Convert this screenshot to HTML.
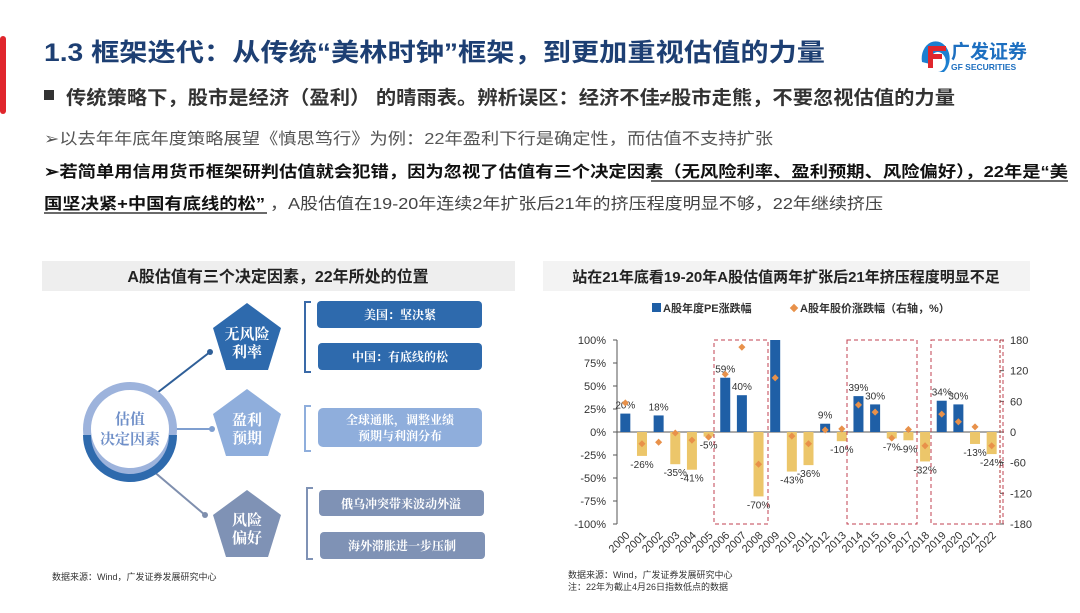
<!DOCTYPE html>
<html><head><meta charset="utf-8"><style>
body{margin:0;background:#fff;width:1080px;height:608px;overflow:hidden;font-family:"Liberation Sans","Noto Sans CJK SC",sans-serif}
</style></head><body>
<svg id="s" width="1080" height="608" xmlns="http://www.w3.org/2000/svg" font-family="Liberation Sans, Noto Sans CJK SC, sans-serif">
<rect x="0" y="36" width="6" height="78" rx="3" fill="#e0262c"/>
<text x="44" y="61" font-size="25" font-weight="bold" fill="#1d3f73" textLength="781" lengthAdjust="spacingAndGlyphs">1.3  框架迭代：从传统“美林时钟”框架，到更加重视估值的力量</text>
<!-- logo -->
<path d="M922 62 a14 17 0 1 1 22 10 l-6 0 a8 10 0 1 0 -8 -8 z" fill="#1d7fd0"/>
<rect x="928" y="46" width="18" height="5" fill="#e0262c"/><rect x="928" y="54" width="14" height="5" fill="#e0262c"/><rect x="928" y="46" width="5" height="22" fill="#e0262c"/>
<text x="951" y="58" font-size="19" font-weight="bold" fill="#1d6fc0">广发证券</text>
<text x="951" y="70" font-size="8.5" font-weight="bold" fill="#1d6fc0">GF SECURITIES</text>
<rect x="44" y="90" width="10" height="10" fill="#333"/>
<text x="66" y="104" font-size="19" font-weight="bold" fill="#333" textLength="889" lengthAdjust="spacingAndGlyphs">传统策略下，股市是经济（盈利） 的晴雨表。辨析误区：经济不佳≠股市走熊，不要忽视估值的力量</text>
<text x="44" y="144" font-size="16" fill="#555" textLength="729" lengthAdjust="spacingAndGlyphs">➢以去年年底年度策略展望《慎思笃行》为例：22年盈利下行是确定性，而估值不支持扩张</text>
<text x="44" y="177" font-size="16" font-weight="bold" fill="#111" textLength="1024" lengthAdjust="spacingAndGlyphs">➢若简单用信用货币框架研判估值就会犯错，因为忽视了估值有三个决定因素（无风险利率、盈利预期、风险偏好），22年是“美</text>
<line x1="651" y1="181" x2="1068" y2="181" stroke="#111" stroke-width="1.2"/>
<text x="44" y="209" font-size="16" font-weight="bold" fill="#111" textLength="221" lengthAdjust="spacingAndGlyphs">国坚决紧+中国有底线的松”</text>
<line x1="44" y1="213" x2="267" y2="213" stroke="#111" stroke-width="1.2"/>
<text x="270" y="209" font-size="16" fill="#444" textLength="613" lengthAdjust="spacingAndGlyphs">，A股估值在19-20年连续2年扩张后21年的挤压程度明显不够，22年继续挤压</text>

<!-- left panel -->
<rect x="42" y="261" width="473" height="30" fill="#eeeeee"/>
<text x="278" y="282" font-size="16" font-weight="bold" text-anchor="middle" fill="#222">A股估值有三个决定因素，22年所处的位置</text>
<line x1="157" y1="393" x2="210" y2="352" stroke="#2f5f98" stroke-width="2"/><circle cx="210" cy="352" r="3" fill="#2f5f98"/>
<line x1="175" y1="429" x2="212" y2="429" stroke="#7f9fd0" stroke-width="2"/><circle cx="212" cy="429" r="3" fill="#7f9fd0"/>
<line x1="152" y1="470" x2="205" y2="515" stroke="#7f8fae" stroke-width="2"/><circle cx="205" cy="515" r="3" fill="#7f8fae"/>
<circle cx="130" cy="429" r="43" fill="none" stroke="#9db3dc" stroke-width="8"/>
<path d="M87 435 A43 43 0 0 0 173 435" fill="none" stroke="#2e6aad" stroke-width="8"/>
<circle cx="130" cy="429" r="37" fill="#fff"/>
<text x="130" y="424" font-size="15" font-weight="bold" text-anchor="middle" fill="#6f8fc8" font-family="Noto Serif CJK SC, serif">估值</text>
<text x="130" y="444" font-size="15" font-weight="bold" text-anchor="middle" fill="#6f8fc8" font-family="Noto Serif CJK SC, serif">决定因素</text>
<g font-family="Noto Serif CJK SC, serif" font-size="15" font-weight="bold" fill="#fff" text-anchor="middle">
<polygon points="247,303 281,328 268,370 226,370 213,328" fill="#2e6aad"/>
<text x="247" y="339">无风险</text><text x="247" y="357">利率</text>
<polygon points="247,389 281,414 268,456 226,456 213,414" fill="#8faedc"/>
<text x="247" y="425">盈利</text><text x="247" y="443">预期</text>
<polygon points="247,490 281,515 268,557 226,557 213,515" fill="#7f92b5"/>
<text x="247" y="525">风险</text><text x="247" y="543">偏好</text>
</g>
<g fill="none" stroke="#3a6aa8" stroke-width="2"><path d="M311 302 h-6 v70 h6"/></g>
<g fill="none" stroke="#8faedc" stroke-width="2"><path d="M311 406 h-6 v45 h6"/></g>
<g fill="none" stroke="#7f92b5" stroke-width="2"><path d="M313 488 h-6 v71 h6"/></g>
<g font-family="Noto Serif CJK SC, serif" font-size="12" font-weight="bold" fill="#fff" text-anchor="middle">
<rect x="317" y="301" width="165" height="27" rx="4" fill="#2e6aad"/><text x="400" y="319">美国：坚决紧</text>
<rect x="318" y="343" width="164" height="27" rx="4" fill="#2e6aad"/><text x="400" y="361">中国：有底线的松</text>
<rect x="318" y="408" width="164" height="39" rx="5" fill="#8faedc"/><text x="400" y="424">全球通胀，调整业绩</text><text x="400" y="440">预期与利润分布</text>
<rect x="319" y="490" width="165" height="26" rx="4" fill="#7f92b5"/><text x="401" y="508">俄乌冲突带来波动外溢</text>
<rect x="320" y="532" width="165" height="27" rx="4" fill="#7f92b5"/><text x="402" y="550">海外滞胀进一步压制</text>
</g>
<text x="52" y="580" font-size="9" fill="#333">数据来源：Wind，广发证券发展研究中心</text>

<!-- right panel -->
<rect x="543" y="261" width="487" height="30" fill="#f3f3f3"/>
<text x="786" y="282" font-size="15" font-weight="bold" text-anchor="middle" fill="#222">站在21年底看19-20年A股估值两年扩张后21年挤压程度明显不足</text>
<rect x="652" y="303" width="9" height="9" fill="#1f5fa6"/>
<text x="663" y="312" font-size="11" font-weight="bold" fill="#333">A股年度PE涨跌幅</text>
<rect x="791" y="305" width="6" height="6" fill="#e8914a" transform="rotate(45 794 308)"/>
<text x="800" y="312" font-size="11" font-weight="bold" fill="#333">A股年股价涨跌幅（右轴，%）</text>
<g id="chart"></g>
<text x="568" y="578" font-size="9" fill="#333">数据来源：Wind，广发证券发展研究中心</text>
<text x="568" y="590" font-size="9" fill="#333">注：22年为截止4月26日指数低点的数据</text>
</svg>
<script>
var g=document.getElementById('chart'),h='';
var x0=617,x1=1000,n=23,w=(x1-x0)/n,y0=432;
function Y(p){return y0-p*0.92}function YR(v){return y0-v*0.511}
var pe=[20,-26,18,-35,-41,-5,59,40,-70,100,-43,-36,9,-10,39,30,-7,-9,-32,34,30,-13,-24];
var pr=[57,-23,-20,-2,-16,-10,113,166,-63,106,-8,-23,4,6,53,39,-12,5,-27,35,20,10,-27];
for(var i=-4;i<=4;i++){var v=i*25,y=Y(v);h+='<text x="606" y="'+(y+4)+'" font-size="11" text-anchor="end" fill="#333">'+v+'%</text><line x1="613" x2="617" y1="'+y+'" y2="'+y+'" stroke="#555"/>';}
for(var i=-3;i<=3;i++){var v=i*60,y=YR(v);h+='<text x="1010" y="'+(y+4)+'" font-size="11" fill="#333">'+v+'</text><line x1="1000" x2="1004" y1="'+y+'" y2="'+y+'" stroke="#555"/>';}
h+='<line x1="617" x2="617" y1="340" y2="524" stroke="#555"/><line x1="1000" x2="1000" y1="340" y2="524" stroke="#b03030" stroke-dasharray="3,2"/>';
h+='<line x1="617" x2="1000" y1="432" y2="432" stroke="#555"/>';
for(var i=0;i<n;i++){var cx=x0+w*(i+.5),p=pe[i],col=p>=0?'#1f5fa6':'#ecc66a';
var yt=Y(Math.max(p,0)),hh=Math.abs(p)*0.92;
h+='<rect x="'+(cx-5)+'" y="'+yt+'" width="10" height="'+hh+'" fill="'+col+'"/>';
if(i!=9){var ly=p>=0?Y(p)-5:Y(p)+12;h+='<text x="'+cx+'" y="'+ly+'" font-size="10" text-anchor="middle" fill="#333">'+p+'%</text>';}
var yr=YR(pr[i]);h+='<rect x="'+(cx-2.5)+'" y="'+(yr-2.5)+'" width="5" height="5" fill="#e8914a" transform="rotate(45 '+cx+' '+yr+')"/>';
h+='<text transform="translate('+(cx+5)+',536) rotate(-45)" font-size="11" text-anchor="end" fill="#333">'+(2000+i)+'</text>';}
[[714,768],[847,917],[931,1003]].forEach(function(b){h+='<rect x="'+b[0]+'" y="340" width="'+(b[1]-b[0])+'" height="184" fill="none" stroke="#c04050" stroke-dasharray="4,3"/>';});
g.innerHTML=h;
</script>
</body></html>
